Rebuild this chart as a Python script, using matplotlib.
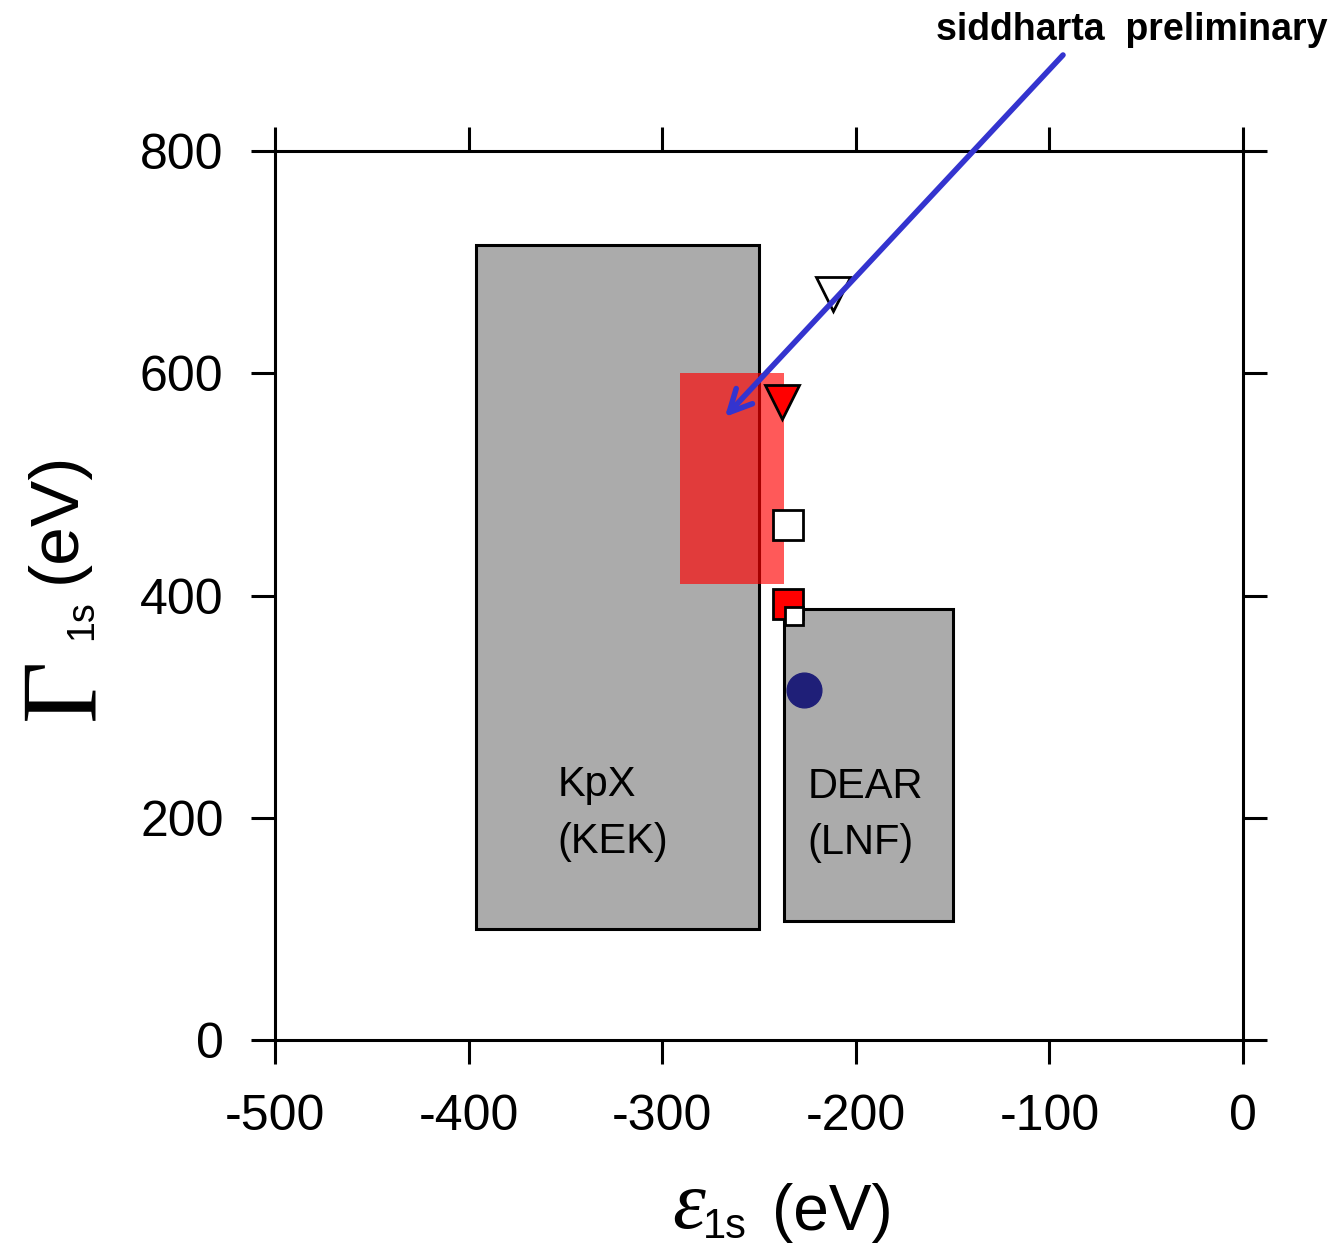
import matplotlib.pyplot as plt
from matplotlib.patches import Rectangle

plt.rcParams['axes.unicode_minus'] = False
plt.rcParams['font.family'] = ['Liberation Sans', 'DejaVu Sans']

# experiment boxes: (x0, x1, y0, y1) in eV
kpx_box = (-396, -250, 100, 715)
dear_box = (-237, -150, 107, 388)
sidd_box = (-291, -237, 410, 600)

# theory points (epsilon, gamma)
open_tri = (-212, 671)
red_tri = (-238, 574)
open_sq = (-235, 463)
red_sq = (-235, 392)
small_sq = (-232, 382)
blue_dot = (-227, 315)

xticks = [-500, -400, -300, -200, -100, 0]
yticks = [0, 200, 400, 600, 800]

W, H = 1334, 1248
fig = plt.figure(figsize=(W / 100, H / 100), dpi=100)
ax = fig.add_axes([275 / W, 1 - 1040 / H, (1243 - 275) / W, (1040 - 151) / H])

gray = '#ABABAB'
for b in (kpx_box, dear_box):
    ax.add_patch(Rectangle((b[0], b[2]), b[1] - b[0], b[3] - b[2],
                           facecolor=gray, edgecolor='black', lw=2.2, zorder=2))
ax.add_patch(Rectangle((sidd_box[0], sidd_box[2]), sidd_box[1] - sidd_box[0],
                       sidd_box[3] - sidd_box[2], facecolor='red', alpha=0.65,
                       edgecolor='none', zorder=3))

mk = dict(linestyle='none', markeredgecolor='black', markeredgewidth=2, zorder=5)
ax.plot(*open_tri, marker='v', ms=25, markerfacecolor='white', **mk)
ax.plot(*red_tri, marker='v', ms=25, markerfacecolor='red', **mk)
ax.plot(*open_sq, marker='s', ms=21, markerfacecolor='white', **mk)
ax.plot(*red_sq, marker='s', ms=21, markerfacecolor='red', **mk)
ax.plot(*small_sq, marker='s', ms=13, markerfacecolor='white', **mk)
ax.plot(*blue_dot, marker='o', ms=25, markerfacecolor='#1F1F78',
        markeredgecolor='#1F1F78', linestyle='none', zorder=5)

# box labels
ax.text(-354, 220, 'KpX', fontsize=30, ha='left', va='baseline', zorder=4)
ax.text(-354, 168, '(KEK)', fontsize=30, ha='left', va='baseline', zorder=4)
ax.text(-225, 218, 'DEAR', fontsize=30, ha='left', va='baseline', zorder=4)
ax.text(-225, 167, '(LNF)', fontsize=30, ha='left', va='baseline', zorder=4)

ax.set_xlim(-500, 0)
ax.set_ylim(0, 800)
ax.set_xticks(xticks)
ax.set_yticks(yticks)
ax.tick_params(which='both', direction='out', length=17, width=2.2,
               top=True, right=True, labelsize=36)
ax.tick_params(axis='x', pad=22)
ax.tick_params(axis='y', pad=20)
for s in ax.spines.values():
    s.set_linewidth(2.2)

# arrow + annotation
fig.text(1327 / W, 1 - 40 / H, 'siddharta  preliminary', fontsize=27,
         fontweight='bold', ha='right', va='baseline')
ax.annotate('', xy=(-267.6, 560.7), xycoords='data',
            xytext=(1063 / W, 1 - 55 / H), textcoords='figure fraction',
            arrowprops=dict(arrowstyle='->', color='#3434CF', lw=4,
                            mutation_scale=40, shrinkA=0, shrinkB=0),
            annotation_clip=False, zorder=6)

# x label pieces
fig.text(672 / W, 1 - 1228 / H, '\u03b5', fontsize=60, family='Liberation Serif',
         style='italic', ha='left', va='baseline')
fig.text(703 / W, 1 - 1238 / H, '1s', fontsize=30, ha='left', va='baseline')
fig.text(772 / W, 1 - 1230 / H, '(eV)', fontsize=46, ha='left', va='baseline')

# y label pieces (rotated)
fig.text(92 / W, 1 - 720 / H, '\u0393', fontsize=78, family='Liberation Serif',
         rotation=90, rotation_mode='anchor', ha='left', va='baseline')
fig.text(92 / W, 1 - 640 / H, '1s', fontsize=27, rotation=90,
         rotation_mode='anchor', ha='left', va='baseline')
fig.text(75 / W, 1 - 583 / H, '(eV)', fontsize=50, rotation=90,
         rotation_mode='anchor', ha='left', va='baseline')

fig.savefig('out.png', dpi=100)
